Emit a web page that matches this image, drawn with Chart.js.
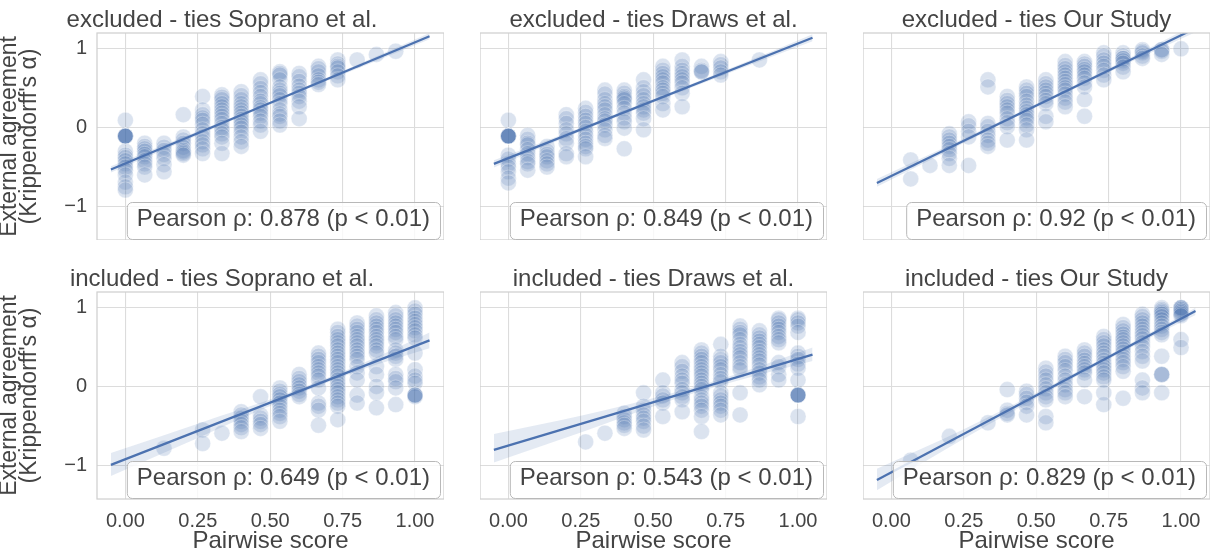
<!DOCTYPE html>
<html>
<head>
<meta charset="utf-8">
<script src="https://cdn.jsdelivr.net/npm/chart.js@4.4.1/dist/chart.umd.min.js"></script>
<style>
  html, body { margin: 0; padding: 0; background: #fff; }
  #wrap { position: relative; width: 1215px; height: 557px; overflow: hidden; }
  #wrap canvas { position: absolute; }
</style>
</head>
<body>
<div id="wrap"></div>
<script>
// pairwise score steps (k / 15)
const scoreSteps = [0, 0.0667, 0.1333, 0.2, 0.2667, 0.3333, 0.4, 0.4667, 0.5333, 0.6, 0.6667, 0.7333, 0.8, 0.8667, 0.9333, 1];

// external agreement values per score step, one list per panel
const exSoprano = [
  [0.09, -0.11, -0.11, -0.11, -0.11, -0.11, -0.11, -0.11, -0.3, -0.35, -0.38, -0.42, -0.46, -0.5, -0.54, -0.6, -0.69, -0.75, -0.79],
  [-0.2, -0.24, -0.27, -0.3, -0.34, -0.37, -0.42, -0.46, -0.5, -0.6],
  [-0.2, -0.25, -0.29, -0.34, -0.39, -0.47, -0.56],
  [0.16, -0.12, -0.16, -0.2, -0.25, -0.29, -0.31, -0.33, -0.35],
  [0.39, 0.22, 0.16, 0.12, 0.09, 0.04, -0.03, -0.08, -0.12, -0.18, -0.22, -0.27, -0.33],
  [0.41, 0.38, 0.35, 0.3, 0.26, 0.22, 0.18, 0.14, 0.1, 0.05, 0, -0.03, -0.08, -0.12, -0.2, -0.33],
  [0.45, 0.4, 0.35, 0.3, 0.26, 0.22, 0.18, 0.14, 0.1, 0.07, 0.03, -0.01, -0.06, -0.12, -0.18, -0.24],
  [0.6, 0.55, 0.49, 0.44, 0.39, 0.33, 0.3, 0.25, 0.22, 0.18, 0.14, 0.08, 0.03, -0.05],
  [0.7, 0.68, 0.66, 0.6, 0.51, 0.47, 0.43, 0.4, 0.35, 0.3, 0.22, 0.17, 0.14, 0.08, 0.03],
  [0.68, 0.64, 0.58, 0.52, 0.47, 0.43, 0.39, 0.33, 0.26, 0.11],
  [0.77, 0.74, 0.7, 0.65, 0.6, 0.57, 0.54],
  [0.85, 0.8, 0.77, 0.75, 0.7, 0.65, 0.6],
  [0.85],
  [0.92],
  [0.96],
  []
];
const exDraws = [
  [0.09, -0.11, -0.11, -0.11, -0.11, -0.11, -0.11, -0.11, -0.11, -0.35, -0.4, -0.46, -0.5, -0.56, -0.64, -0.7],
  [-0.1, -0.15, -0.2, -0.22, -0.28, -0.33, -0.38, -0.43, -0.46, -0.54],
  [-0.24, -0.3, -0.34, -0.37, -0.42, -0.46, -0.5],
  [0.16, 0.11, 0.05, -0.03, -0.08, -0.14, -0.2, -0.33, -0.37],
  [0.24, 0.19, 0.14, 0.09, 0.05, 0, -0.05, -0.1, -0.15, -0.2, -0.24, -0.27, -0.37],
  [0.47, 0.42, 0.35, 0.3, 0.26, 0.22, 0.16, 0.11, 0.08, 0.03, -0.03, -0.1, -0.14],
  [0.47, 0.43, 0.39, 0.37, 0.35, 0.3, 0.24, 0.18, 0.12, 0.07, -0.01, -0.27],
  [0.6, 0.5, 0.45, 0.4, 0.35, 0.3, 0.26, 0.22, 0.18, 0.11, -0.03],
  [0.77, 0.72, 0.68, 0.64, 0.6, 0.56, 0.5, 0.47, 0.43, 0.39, 0.3, 0.22],
  [0.85, 0.77, 0.72, 0.68, 0.64, 0.6, 0.56, 0.5, 0.43, 0.26],
  [0.77, 0.72, 0.7, 0.7],
  [0.83, 0.79, 0.75, 0.7, 0.66],
  [],
  [0.85],
  [],
  []
];
const exOurs = [
  [],
  [-0.41, -0.65],
  [-0.48],
  [-0.08, -0.12, -0.16, -0.2, -0.24, -0.28, -0.33, -0.39, -0.48],
  [0.07, 0.02, -0.05, -0.12, -0.48],
  [0.6, 0.51, 0.05, 0.01, -0.05, -0.1, -0.16, -0.2, -0.24],
  [0.39, 0.34, 0.3, 0.26, 0.22, 0.18, 0.11, 0.06, 0.01, -0.16],
  [0.51, 0.47, 0.43, 0.39, 0.33, 0.28, 0.24, 0.2, 0.16, 0.12, 0.09, 0.03, -0.03, -0.16],
  [0.6, 0.55, 0.51, 0.47, 0.43, 0.39, 0.34, 0.3, 0.14, 0.07],
  [0.83, 0.78, 0.74, 0.7, 0.66, 0.62, 0.58, 0.54, 0.5, 0.47, 0.42, 0.37, 0.32, 0.26],
  [0.83, 0.8, 0.77, 0.73, 0.7, 0.66, 0.62, 0.56, 0.51, 0.35, 0.14],
  [0.94, 0.9, 0.85, 0.81, 0.77, 0.72, 0.66, 0.6],
  [0.94, 0.9, 0.87, 0.87, 0.84, 0.81, 0.76, 0.7],
  [0.98, 0.96, 0.94, 0.9, 0.87],
  [0.98, 0.98, 0.96, 0.92],
  [0.99]
];
const inSoprano = [
  [],
  [],
  [-0.78],
  [],
  [-0.55, -0.72],
  [-0.59],
  [-0.32, -0.36, -0.4, -0.44, -0.48, -0.52, -0.57],
  [-0.13, -0.36, -0.4, -0.44, -0.48, -0.53],
  [-0.02, -0.06, -0.1, -0.13, -0.17, -0.21, -0.25, -0.3, -0.34, -0.38, -0.44],
  [0.15, 0.1, 0.06, 0.02, -0.02, -0.06, -0.1, -0.13],
  [0.42, 0.38, 0.34, 0.3, 0.25, 0.21, 0.17, 0.13, 0.08, -0.02, -0.21, -0.25, -0.3, -0.49],
  [0.72, 0.68, 0.63, 0.59, 0.55, 0.51, 0.46, 0.42, 0.38, 0.34, 0.3, 0.25, 0.21, 0.17, 0.13, 0.08, 0.04, 0, -0.04, -0.08, -0.13, -0.17, -0.21, -0.25, -0.42],
  [0.8, 0.76, 0.72, 0.68, 0.63, 0.59, 0.55, 0.51, 0.46, 0.42, 0.38, 0.34, 0.25, 0.17, 0.08, -0.11, -0.21],
  [0.89, 0.84, 0.8, 0.76, 0.72, 0.68, 0.63, 0.59, 0.55, 0.51, 0.46, 0.42, 0.25, 0.15, 0, -0.08, -0.27],
  [0.93, 0.89, 0.84, 0.8, 0.76, 0.72, 0.68, 0.63, 0.59, 0.46, 0.42, 0.38, 0.34, 0.15, 0.1, 0.06, -0.02, -0.23],
  [0.99, 0.95, 0.91, 0.86, 0.82, 0.78, 0.74, 0.7, 0.65, 0.61, 0.42, 0.21, 0.13, 0.08, 0.04, -0.11, -0.11, -0.11, -0.11, -0.13]
];
const inDraws = [
  [],
  [],
  [],
  [],
  [-0.7],
  [-0.59],
  [-0.34, -0.38, -0.42, -0.46, -0.49, -0.53],
  [-0.08, -0.25, -0.3, -0.36, -0.4, -0.44, -0.5, -0.55],
  [0.08, -0.08, -0.12, -0.17, -0.21, -0.38],
  [0.3, 0.25, 0.19, 0.13, 0.08, 0.04, -0.04, -0.08, -0.13, -0.17, -0.32],
  [0.46, 0.42, 0.38, 0.34, 0.3, 0.25, 0.21, 0.17, 0.13, 0.08, 0.04, 0, -0.04, -0.13, -0.17, -0.21, -0.25, -0.3, -0.38, -0.57],
  [0.53, 0.38, 0.34, 0.3, 0.25, 0.21, 0.15, 0.1, 0.06, -0.08, -0.12, -0.17, -0.21, -0.25, -0.3, -0.36],
  [0.76, 0.72, 0.68, 0.65, 0.59, 0.53, 0.49, 0.44, 0.4, 0.36, 0.3, 0.25, 0.21, -0.08, -0.36],
  [0.7, 0.65, 0.61, 0.57, 0.53, 0.49, 0.44, 0.4, 0.36, 0.32, 0.27, 0.21, 0.17, 0.12, 0.08, 0.02],
  [0.86, 0.84, 0.8, 0.76, 0.72, 0.68, 0.63, 0.59, 0.55, 0.3, 0.25, 0.15, 0.08],
  [0.86, 0.84, 0.8, 0.76, 0.68, 0.42, 0.38, 0.34, 0.28, 0.23, 0.08, -0.11, -0.11, -0.11, -0.11, -0.11, -0.11, -0.38]
];
const inOurs = [
  [],
  [-0.93],
  [],
  [-0.63],
  [],
  [-0.46],
  [-0.04, -0.3, -0.34, -0.36],
  [-0.06, -0.1, -0.15, -0.2, -0.25, -0.36],
  [0.23, 0.18, 0.13, 0.08, 0.02, -0.03, -0.08, -0.13, -0.17, -0.38, -0.46],
  [0.38, 0.34, 0.3, 0.25, 0.2, 0.13, 0.08, 0.02, -0.04, -0.08, -0.13],
  [0.46, 0.42, 0.38, 0.33, 0.29, 0.25, 0.21, 0.17, 0.08, -0.13],
  [0.63, 0.59, 0.55, 0.51, 0.46, 0.42, 0.38, 0.33, 0.29, 0.25, 0.21, 0.17, 0.12, 0.08, -0.08, -0.23],
  [0.78, 0.74, 0.7, 0.66, 0.62, 0.59, 0.55, 0.51, 0.47, 0.43, 0.38, 0.34, 0.3, 0.25, 0.19, -0.15],
  [0.91, 0.88, 0.84, 0.8, 0.76, 0.72, 0.68, 0.64, 0.6, 0.55, 0.5, 0.44, 0.38, 0.32, 0.08, -0.02, -0.08],
  [0.99, 0.97, 0.95, 0.93, 0.91, 0.88, 0.84, 0.8, 0.76, 0.72, 0.68, 0.65, 0.38, 0.15, 0.15, 0.15, -0.08],
  [0.99, 0.99, 0.99, 0.99, 0.97, 0.95, 0.93, 0.91, 0.89, 0.59, 0.49]
];

// regression fits: line end points and confidence band
const fitX = [-0.05, 1.05];
const bandX = [-0.05, 0.25, 0.55, 0.8, 1.05];
const fitExSoprano = [-0.53, 1.15];
const bandExSopranoHi = [-0.49, -0.05, 0.4, 0.79, 1.19];
const bandExSopranoLo = [-0.57, -0.1, 0.37, 0.74, 1.11];
const fitExDraws = [-0.46, 1.13];
const bandExDrawsHi = [-0.415, -0.005, 0.427, 0.795, 1.175];
const bandExDrawsLo = [-0.505, -0.05, 0.387, 0.74, 1.085];
const fitExOurs = [-0.7, 1.25];
const bandExOursHi = [-0.65, -0.14, 0.384, 0.835, 1.3];
const bandExOursLo = [-0.75, -0.196, 0.344, 0.78, 1.2];
const fitInSoprano = [-0.99, 0.58];
const bandInSopranoHi = [-0.84, -0.47, -0.1, 0.26, 0.68];
const bandInSopranoLo = [-1.13, -0.65, -0.17, 0.19, 0.48];
const fitInDraws = [-0.8, 0.4];
const bandInDrawsHi = [-0.6, -0.37, -0.1, 0.17, 0.49];
const bandInDrawsLo = [-0.96, -0.58, -0.19, 0.08, 0.32];
const fitInOurs = [-1.18, 0.95];
const bandInOursHi = [-1.04, -0.54, 0.01, 0.49, 0.99];
const bandInOursLo = [-1.31, -0.66, -0.05, 0.44, 0.9];

const panelTitles = [
  'excluded - ties Soprano et al.', 'excluded - ties Draws et al.', 'excluded - ties Our Study',
  'included - ties Soprano et al.', 'included - ties Draws et al.', 'included - ties Our Study'
];
const pearsonRho = ['0.878', '0.849', '0.92', '0.649', '0.543', '0.829'];

const xTickValues = [0, 0.25, 0.5, 0.75, 1];
const xTickLabels = ['0.00', '0.25', '0.50', '0.75', '1.00'];
const yTickValues = [-1, 0, 1];
const yTickLabels = ['\u22121', '0', '1'];
const yAxisTitle = ['External agreement', "(Krippendorff's \u03b1)"];
const xAxisTitle = 'Pairwise score';

const panels = [
  { pts: exSoprano, fit: fitExSoprano, hi: bandExSopranoHi, lo: bandExSopranoLo },
  { pts: exDraws, fit: fitExDraws, hi: bandExDrawsHi, lo: bandExDrawsLo },
  { pts: exOurs, fit: fitExOurs, hi: bandExOursHi, lo: bandExOursLo },
  { pts: inSoprano, fit: fitInSoprano, hi: bandInSopranoHi, lo: bandInSopranoLo },
  { pts: inDraws, fit: fitInDraws, hi: bandInDrawsHi, lo: bandInDrawsLo },
  { pts: inOurs, fit: fitInOurs, hi: bandInOursHi, lo: bandInOursLo }
];

const FONT = '"Liberation Sans", Arial, Helvetica, sans-serif';
const TEXT = '#444444';
const BLUE = '#4c72b0';

// layout of the grid of subplots
const colLeft = [97, 480, 863];
const rowTop = [33, 292];
const plotW = 347, plotH = 207, titleH = 33, leftAxisW = 97, bottomAxisH = 58;

const panelFrame = {
  id: 'panelFrame',
  afterDatasetsDraw(chart, args, opts) {
    const ctx = chart.ctx;
    const a = chart.chartArea;
    ctx.save();
    ctx.strokeStyle = '#d0d0d0';
    ctx.lineWidth = 1.25;
    ctx.strokeRect(a.left, a.top, a.right - a.left, a.bottom - a.top);

    // Pearson annotation box
    const text = 'Pearson \u03c1: ' + opts.rho + ' (p < 0.01)';
    ctx.font = '24px ' + FONT;
    const tw = ctx.measureText(text).width;
    const bw = tw + 20, bh = 37;
    const bx = a.right - 4 - bw, by = a.bottom - 1 - bh;
    ctx.beginPath();
    ctx.roundRect(bx + 0.5, by + 0.5, bw, bh, 5);
    ctx.fillStyle = 'rgba(255,255,255,0.8)';
    ctx.fill();
    ctx.strokeStyle = '#b8b8b8';
    ctx.lineWidth = 1;
    ctx.stroke();
    ctx.fillStyle = TEXT;
    ctx.textBaseline = 'alphabetic';
    ctx.textAlign = 'left';
    ctx.fillText(text, bx + 10, by + 23.5);
    ctx.restore();
  }
};

const wrap = document.getElementById('wrap');

panels.forEach((p, i) => {
  const r = Math.floor(i / 3), c = i % 3;
  const yW = c === 0 ? leftAxisW : 0;
  const xH = r === 1 ? bottomAxisH : 0;
  const cv = document.createElement('canvas');
  cv.width = yW + plotW;
  cv.height = titleH + plotH + xH;
  cv.style.left = (colLeft[c] - yW) + 'px';
  cv.style.top = (rowTop[r] - titleH) + 'px';
  cv.style.width = cv.width + 'px';
  cv.style.height = cv.height + 'px';
  wrap.appendChild(cv);

  const scatterData = [];
  p.pts.forEach((col, k) => col.forEach(v => scatterData.push({ x: scoreSteps[k], y: v })));

  new Chart(cv, {
    type: 'scatter',
    data: {
      datasets: [
        {
          type: 'line',
          data: fitX.map((x, j) => ({ x: x, y: p.fit[j] })),
          borderColor: BLUE,
          borderWidth: 2.2,
          pointRadius: 0,
          fill: false
        },
        {
          type: 'line',
          data: bandX.map((x, j) => ({ x: x, y: p.hi[j] })),
          borderWidth: 0,
          pointRadius: 0,
          cubicInterpolationMode: 'monotone',
          fill: false
        },
        {
          type: 'line',
          data: bandX.map((x, j) => ({ x: x, y: p.lo[j] })),
          borderWidth: 0,
          pointRadius: 0,
          cubicInterpolationMode: 'monotone',
          backgroundColor: 'rgba(76,114,176,0.15)',
          fill: '-1'
        },
        {
          type: 'scatter',
          data: scatterData,
          pointRadius: 8,
          pointHoverRadius: 8,
          backgroundColor: 'rgba(76,114,176,0.2)',
          borderColor: 'rgba(255,255,255,0.3)',
          borderWidth: 1
        }
      ]
    },
    options: {
      responsive: false,
      animation: false,
      devicePixelRatio: 1,
      events: [],
      layout: { padding: 0, autoPadding: false },
      plugins: {
        legend: { display: false },
        tooltip: { enabled: false },
        title: {
          display: true,
          text: panelTitles[i],
          color: TEXT,
          font: { family: FONT, size: 24, weight: 'normal', lineHeight: 1 },
          padding: { top: 8, bottom: 1 }
        },
        panelFrame: { rho: pearsonRho[i] }
      },
      scales: {
        x: {
          type: 'linear',
          min: -0.098,
          max: 1.1,
          afterBuildTicks: s => { s.ticks = xTickValues.map(v => ({ value: v })); },
          afterFit: s => { s.height = xH; s.paddingLeft = 0; s.paddingRight = 0; },
          grid: { color: '#dcdcdc', lineWidth: 1.1, drawTicks: false },
          border: { display: false },
          ticks: {
            display: r === 1,
            padding: 10,
            color: TEXT,
            font: { family: FONT, size: 20 },
            callback: (v, idx) => xTickLabels[idx]
          },
          title: {
            display: r === 1,
            text: xAxisTitle,
            color: TEXT,
            font: { family: FONT, size: 24, lineHeight: 1 },
            padding: { top: 0, bottom: 4 }
          }
        },
        y: {
          type: 'linear',
          min: -1.42,
          max: 1.19,
          afterBuildTicks: s => { s.ticks = yTickValues.map(v => ({ value: v })); },
          afterFit: s => { s.width = yW; s.paddingTop = 0; s.paddingBottom = 0; },
          grid: { color: '#dcdcdc', lineWidth: 1.1, drawTicks: false },
          border: { display: false },
          ticks: {
            display: c === 0,
            padding: 10,
            color: TEXT,
            font: { family: FONT, size: 20 },
            callback: (v, idx) => yTickLabels[idx]
          },
          title: {
            display: c === 0,
            text: yAxisTitle,
            color: TEXT,
            font: { family: FONT, size: 23, lineHeight: 0.85 },
            padding: { top: 0, bottom: 0 }
          }
        }
      }
    },
    plugins: [panelFrame]
  });
});
</script>
</body>
</html>
